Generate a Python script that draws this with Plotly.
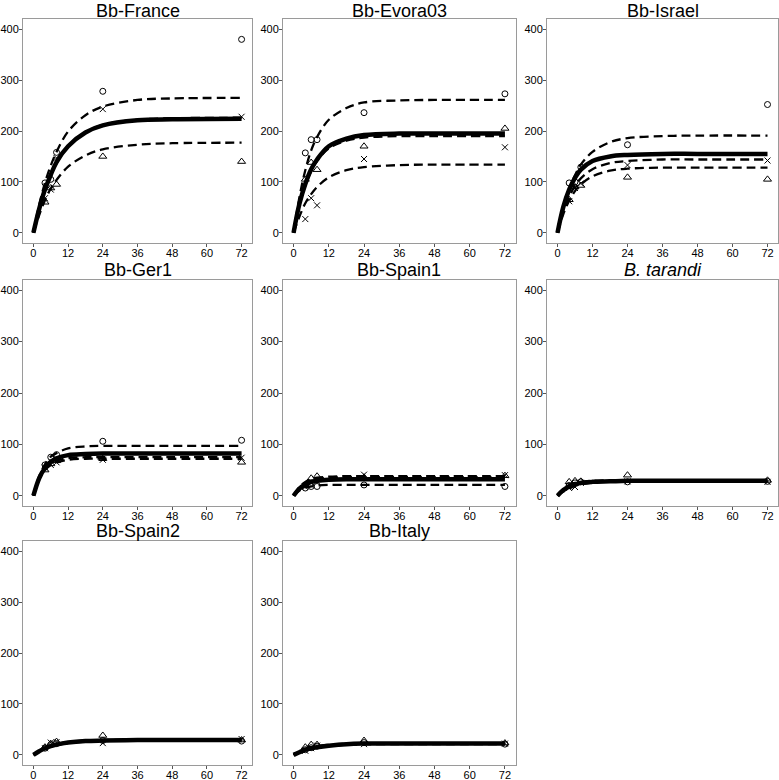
import plotly.graph_objects as go

PANELS = ["Bb-France", "Bb-Evora03", "Bb-Israel", "Bb-Ger1", "Bb-Spain1",
          "<i>B. tarandi</i>", "Bb-Spain2", "Bb-Italy"]
TIMES = [4, 6, 8, 24, 72]
CURVE_T = [0, 2, 4, 6, 8, 12, 18, 24, 36, 48, 72]
X_TICKS = [0, 12, 24, 36, 48, 60, 72]
Y_TICKS = [0, 100, 200, 300, 400]

# observed replicate values (per panel), at TIMES
CIRCLE = [
    [98, 105, 158, 278, 380],
    [157, 183, 183, 236, 273],
    [98, 100, 129, 173, 252],
    [60, 75, 80, 106, 108],
    [15, 18, 18, 21, 18],
    [20, 25, 27, 27, 28],
    [13, 20, 22, 28, 27],
    [10, 14, 17, 24, 21],
]
TRIANGLE = [
    [60, 88, 95, 150, 140],
    [105, 138, 124, 170, 205],
    [65, 90, 93, 109, 105],
    [50, 62, 68, 72, 65],
    [20, 34, 38, 36, 39],
    [27, 29, 28, 40, 30],
    [15, 22, 26, 38, 29],
    [15, 20, 20, 28, 23],
]
CROSS = [
    [68, 85, 147, 243, 228],
    [27, 68, 54, 145, 168],
    [62, 88, 97, 133, 142],
    [55, 60, 65, 70, 74],
    [17, 25, 28, 41, 40],
    [15, 17, 25, 28, 27],
    [13, 24, 25, 23, 31],
    [8, 13, 18, 21, 22],
]

# fitted curves, at CURVE_T
FIT_MEAN = [
    [0, 47, 85, 114, 139, 170, 197, 211, 221, 223, 224],
    [0, 57, 96, 125, 144, 170, 185, 192, 195, 195, 195],
    [0, 51, 85, 108, 124, 141, 150, 153, 155, 155, 155],
    [0, 34, 54, 66, 73, 79, 81, 82, 82, 82, 82],
    [0, 14, 22, 27, 29, 31, 32, 32, 32, 32, 32],
    [0, 11, 18, 22, 25, 27, 28, 29, 29, 29, 29],
    [0, 7, 13, 17, 20, 24, 27, 28, 29, 29, 29],
    [0, 5, 10, 13, 15, 18, 21, 22, 22, 22, 22],
]
FIT_CIRCLE = [
    [0, 55, 98, 132, 159, 199, 231, 248, 261, 264, 265],
    [0, 70, 123, 162, 188, 222, 245, 256, 260, 261, 261],
    [0, 50, 86, 113, 134, 159, 178, 186, 190, 191, 191],
    [0, 38, 61, 76, 83, 92, 96, 97, 97, 97, 97],
    [0, 10, 16, 18, 20, 21, 21, 21, 21, 21, 21],
    [0, 10, 17, 21, 24, 27, 28, 28, 28, 28, 28],
    [0, 7, 12, 16, 19, 23, 26, 27, 28, 28, 28],
    [0, 5, 9, 12, 14, 17, 20, 21, 21, 21, 21],
]
FIT_TRIANGLE = [
    [0, 35, 64, 87, 104, 130, 152, 164, 173, 176, 177],
    [0, 55, 93, 121, 141, 166, 181, 187, 190, 190, 190],
    [0, 37, 63, 82, 95, 111, 122, 126, 128, 128, 128],
    [0, 34, 53, 62, 68, 73, 75, 75, 75, 75, 75],
    [0, 16, 25, 30, 33, 35, 36, 36, 36, 36, 36],
    [0, 13, 21, 25, 27, 29, 30, 30, 30, 30, 30],
    [0, 8, 14, 18, 21, 25, 28, 29, 30, 30, 30],
    [0, 6, 11, 14, 17, 20, 22, 23, 23, 23, 23],
]
FIT_CROSS = [
    [0, 45, 83, 112, 137, 169, 197, 212, 222, 225, 226],
    [0, 32, 58, 76, 90, 109, 123, 129, 133, 134, 134],
    [0, 42, 71, 92, 107, 125, 137, 141, 144, 144, 144],
    [0, 32, 50, 60, 65, 70, 72, 72, 72, 72, 72],
    [0, 17, 27, 32, 35, 37, 38, 38, 38, 38, 38],
    [0, 8, 14, 19, 22, 26, 28, 29, 29, 29, 29],
    [0, 7, 13, 17, 20, 24, 27, 28, 29, 29, 30],
    [0, 5, 9, 12, 15, 18, 20, 21, 22, 22, 22],
]

W, H = 779, 780
COL_PX = [(23, 252), (283, 515.5), (547, 778)]
ROW_PX = [(19, 243), (280, 506), (541, 765)]
TITLE_TOP_PX = [0, 259, 520]

fig = go.Figure()
FONT = "Liberation Sans, Arial, Helvetica, sans-serif"

for i, name in enumerate(PANELS):
    r, c = divmod(i, 3)
    n = i + 1
    xa = "x" if n == 1 else f"x{n}"
    ya = "y" if n == 1 else f"y{n}"
    # mean fit (solid, thick)
    fig.add_trace(go.Scatter(x=CURVE_T, y=FIT_MEAN[i], mode="lines",
                             line=dict(color="black", width=4.5, shape="spline"),
                             xaxis=xa, yaxis=ya, showlegend=False))
    for fit in (FIT_CIRCLE, FIT_TRIANGLE, FIT_CROSS):
        fig.add_trace(go.Scatter(x=CURVE_T, y=fit[i], mode="lines",
                                 line=dict(color="black", width=2.3, dash="9px,5px",
                                           shape="spline"),
                                 xaxis=xa, yaxis=ya, showlegend=False))
    for vals, sym, sz in ((CIRCLE, "circle-open", 6), (TRIANGLE, "triangle-up-open", 7),
                          (CROSS, "x-thin-open", 6)):
        fig.add_trace(go.Scatter(x=TIMES, y=vals[i], mode="markers",
                                 marker=dict(symbol=sym, size=sz, color="black",
                                             line=dict(width=1, color="black")),
                                 xaxis=xa, yaxis=ya, showlegend=False))

    x0, x1 = COL_PX[c]
    y0, y1 = ROW_PX[r]
    axis_common = dict(showgrid=False, zeroline=False, showline=True, mirror=True,
                       linecolor="#9a9a9a", linewidth=1, ticks="outside", ticklen=3,
                       tickcolor="#555555", tickwidth=1,
                       tickfont=dict(family=FONT, size=11, color="black"))
    fig.layout[f"xaxis{n if n > 1 else ''}"] = dict(
        domain=[x0 / W, x1 / W], range=[-3.6, 75.6], tickvals=X_TICKS,
        anchor=ya, ticklabelstandoff=-3, **axis_common)
    fig.layout[f"yaxis{n if n > 1 else ''}"] = dict(
        domain=[1 - y1 / H, 1 - y0 / H], range=[-20, 420], tickvals=Y_TICKS,
        anchor=xa, ticklabelstandoff=-2, **axis_common)
    fig.add_annotation(text=name, x=(x0 + x1) / 2 / W, y=1 - TITLE_TOP_PX[r] / H,
                       xref="paper", yref="paper", showarrow=False,
                       xanchor="center", yanchor="top", borderpad=0,
                       font=dict(family=FONT, size=18, color="black"))

fig.update_layout(width=W, height=H, plot_bgcolor="white", paper_bgcolor="white",
                  margin=dict(l=0, r=0, t=0, b=0, autoexpand=False))
fig.write_html("out.html", config={"displayModeBar": False},
               post_script="document.body.style.margin='0';"
                           "document.body.style.overflow='hidden';")
